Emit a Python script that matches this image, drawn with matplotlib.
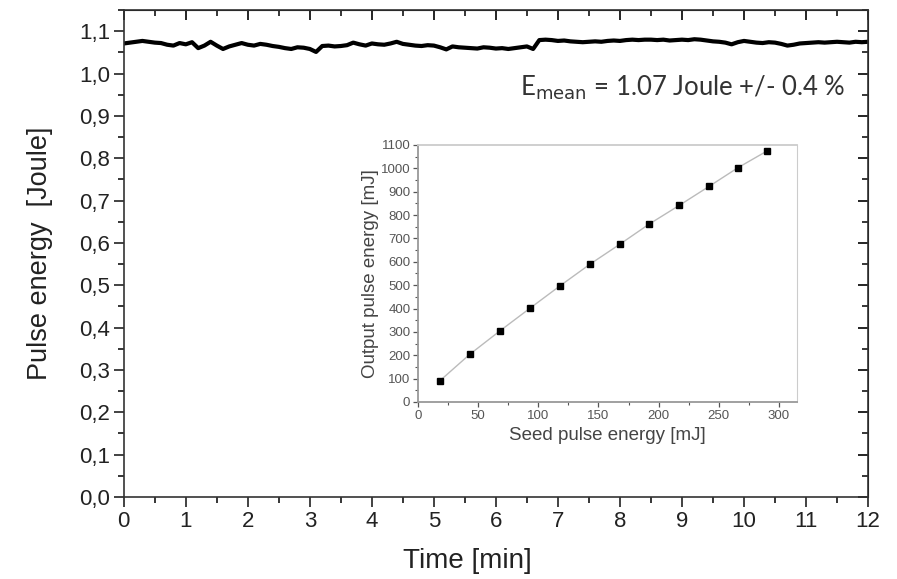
"""Pulse energy stability over 12 min, with inset of output vs seed energy."""
import matplotlib.pyplot as plt
from matplotlib.ticker import MultipleLocator, FuncFormatter

plt.rcParams["font.family"] = ["Liberation Sans", "DejaVu Sans"]

# ── main trace: pulse energy [J] read every 0.1 min ──
time_min = [i / 10 for i in range(121)]
energy_j = [
    1.071, 1.073, 1.075, 1.077, 1.075, 1.073, 1.072, 1.068, 1.066, 1.072,
    1.069, 1.074, 1.060, 1.066, 1.075, 1.066, 1.058, 1.064, 1.068, 1.072,
    1.068, 1.066, 1.070, 1.068, 1.065, 1.063, 1.060, 1.058, 1.062, 1.061,
    1.058, 1.051, 1.065, 1.066, 1.064, 1.065, 1.067, 1.073, 1.069, 1.066,
    1.071, 1.069, 1.068, 1.071, 1.075, 1.070, 1.068, 1.066, 1.065, 1.067,
    1.066, 1.062, 1.057, 1.064, 1.062, 1.061, 1.060, 1.059, 1.062, 1.061,
    1.059, 1.060, 1.058, 1.060, 1.062, 1.064, 1.058, 1.079, 1.080, 1.079,
    1.077, 1.078, 1.076, 1.075, 1.074, 1.075, 1.076, 1.075, 1.077, 1.078,
    1.077, 1.079, 1.080, 1.079, 1.080, 1.080, 1.079, 1.080, 1.078, 1.079,
    1.080, 1.079, 1.081, 1.080, 1.078, 1.076, 1.075, 1.073, 1.069, 1.074,
    1.077, 1.075, 1.073, 1.072, 1.074, 1.073, 1.070, 1.066, 1.068, 1.071,
    1.072, 1.073, 1.074, 1.073, 1.074, 1.075, 1.074, 1.073, 1.075, 1.074,
    1.075,
]

# ── inset: seed vs output pulse energy [mJ] ──
seed_mj = [18, 43, 68, 93, 118, 143, 168, 192, 217, 242, 266, 290]
output_mj = [90, 204, 304, 401, 497, 590, 676, 761, 841, 923, 1003, 1074]

comma = FuncFormatter(lambda v, _: f"{v:.1f}".replace(".", ","))

fig = plt.figure(figsize=(8.97, 5.79), dpi=100)
ax = fig.add_axes([0.138, 0.1416, 0.8297, 0.8411])

ax.plot(time_min, energy_j, color="black", lw=3.0, solid_joinstyle="round")
ax.set_xlim(0, 12)
ax.set_ylim(0, 1.15)
ax.xaxis.set_major_locator(MultipleLocator(1))
ax.xaxis.set_minor_locator(MultipleLocator(0.5))
ax.yaxis.set_major_locator(MultipleLocator(0.1))
ax.yaxis.set_minor_locator(MultipleLocator(0.05))
ax.yaxis.set_major_formatter(comma)
ax.tick_params(which="major", direction="out", length=7, width=1.2,
               labelsize=16, colors="#222222", pad=3)
ax.tick_params(which="minor", direction="out", length=4, width=1.1)
for s in ax.spines.values():
    s.set_linewidth(1.2)
    s.set_color("#333333")

# mirrored ticks pointing inward on top/right (Origin style)
top = ax.secondary_xaxis("top")
top.xaxis.set_major_locator(MultipleLocator(1))
top.xaxis.set_minor_locator(MultipleLocator(0.5))
top.tick_params(which="major", direction="in", length=7, width=1.2, labeltop=False)
top.tick_params(which="minor", direction="in", length=4, width=1.1)
right = ax.secondary_yaxis("right")
right.yaxis.set_major_locator(MultipleLocator(0.1))
right.yaxis.set_minor_locator(MultipleLocator(0.05))
right.tick_params(which="major", direction="in", length=7, width=1.2, labelright=False)
right.tick_params(which="minor", direction="in", length=4, width=1.1)

ax.set_xlabel("Time [min]", fontsize=20, color="#222222")
ax.xaxis.set_label_coords(0.462, -0.105)
ax.set_ylabel("Pulse energy  [Joule]", fontsize=19.5, color="#222222")
ax.yaxis.set_label_coords(-0.095, 0.5)

ax.text(0.970, 0.840, r"E$_{\mathrm{mean}}$ = 1.07 Joule +/- 0.4 %",
        transform=ax.transAxes, ha="right", va="center",
        fontsize=18.5, family="Lato", color="#333333")

# ── inset ──
ins = fig.add_axes([0.466, 0.3057, 0.4225, 0.4439])
ins.plot(seed_mj, output_mj, color="#bbbbbb", lw=1.0, zorder=2)
ins.plot(seed_mj, output_mj, "s", color="black", ms=3.8, zorder=3)
ins.set_xlim(0, 315)
ins.set_ylim(0, 1100)
ins.xaxis.set_major_locator(MultipleLocator(50))
ins.xaxis.set_minor_locator(MultipleLocator(25))
ins.yaxis.set_major_locator(MultipleLocator(100))
ins.yaxis.set_minor_locator(MultipleLocator(50))
ins.tick_params(which="major", direction="out", length=3.5, width=0.9,
                labelsize=9.5, colors="#555555", pad=2)
ins.tick_params(which="minor", direction="out", length=2, width=0.8, colors="#555555")
for side, s in ins.spines.items():
    s.set_color("#999999" if side in ("left", "bottom") else "#cccccc")
    s.set_linewidth(1.3 if side in ("left", "bottom", "top") else 0.8)
ins.set_xlabel("Seed pulse energy [mJ]", fontsize=13.5, color="#444444", labelpad=4)
ins.set_ylabel("Output pulse energy [mJ]", fontsize=13.5, color="#444444", labelpad=1)

fig.savefig("out.png", dpi=100)
